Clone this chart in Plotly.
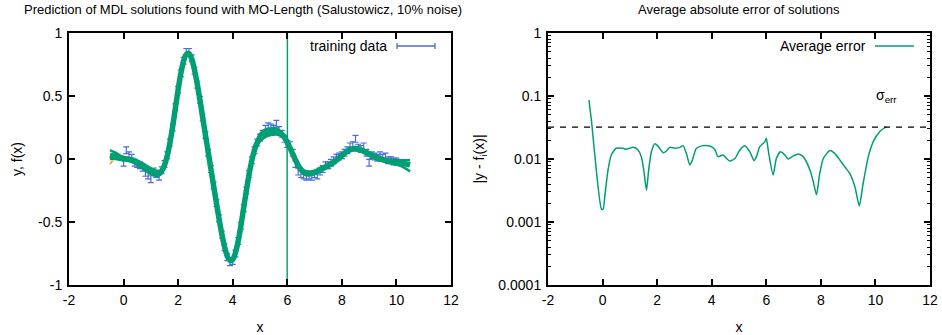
import plotly.graph_objects as go

# ---------------- data ----------------
# training data (x = 0 .. 10, step 0.1)
data_x = [round(i * 0.1, 1) for i in range(101)]
data_y = [-0.03, 0.07, 0.03, 0.01, -0.03, -0.04, -0.05, -0.07, -0.11, -0.13,
          -0.16, -0.10, -0.12, -0.14, -0.09, -0.04, 0.03, 0.13, 0.25, 0.41,
          0.55, 0.68, 0.78, 0.85, 0.85, 0.80, 0.70, 0.59, 0.47, 0.33,
          0.19, 0.05, -0.08, -0.21, -0.35, -0.47, -0.60, -0.70, -0.78, -0.82,
          -0.81, -0.75, -0.65, -0.53, -0.39, -0.25, -0.12, -0.01, 0.07, 0.13,
          0.17, 0.20, 0.24, 0.26, 0.25, 0.24, 0.28, 0.23, 0.20, 0.16,
          0.12, 0.11, 0.05, -0.04, -0.10, -0.12, -0.13, -0.14, -0.13, -0.14,
          -0.12, -0.13, -0.10, -0.08, -0.05, -0.05, -0.03, -0.01, 0.01, 0.02,
          0.03, 0.05, 0.07, 0.10, 0.11, 0.16, 0.09, 0.08, 0.10, 0.05,
          -0.03, 0.03, 0.02, 0.01, 0.03, 0.01, 0.02, -0.01, -0.01, -0.02,
          -0.02]
data_err = 0.027

# central model prediction (x = -0.5 .. 10.5, step 0.1)
model_x = [round(-0.5 + i * 0.1, 1) for i in range(111)]
model_y = [0.030, 0.025, 0.020, 0.012, 0.006,
           0.000, -0.000, -0.001, -0.005, -0.013, -0.025, -0.041, -0.057, -0.074, -0.089,
           -0.103, -0.115, -0.121, -0.116, -0.095, -0.049, 0.025, 0.129, 0.259, 0.405,
           0.551, 0.680, 0.777, 0.831, 0.835, 0.792, 0.708, 0.596, 0.466, 0.329,
           0.192, 0.056, -0.078, -0.212, -0.345, -0.475, -0.594, -0.696, -0.770, -0.805,
           -0.797, -0.744, -0.652, -0.530, -0.391, -0.251, -0.121, -0.012, 0.073, 0.132,
           0.169, 0.191, 0.204, 0.211, 0.217, 0.220, 0.220, 0.213, 0.197, 0.170,
           0.133, 0.088, 0.040, -0.008, -0.050, -0.083, -0.105, -0.117, -0.119, -0.114,
           -0.105, -0.094, -0.083, -0.073, -0.063, -0.053, -0.041, -0.027, -0.010, 0.009,
           0.028, 0.047, 0.063, 0.075, 0.082, 0.083, 0.080, 0.072, 0.062, 0.051,
           0.039, 0.028, 0.018, 0.009, 0.002, -0.005, -0.011, -0.016, -0.020, -0.024,
           -0.026, -0.028, -0.032, -0.037, -0.042, -0.047]

# spread of the other models (sparse readings)
spread_a_x = [-0.5, -0.3, -0.1, 0.1, 0.3, 0.5, 0.7, 0.9, 1.1, 1.3, 1.45]
spread_a_up = [0.07, 0.05, 0.025, 0.01, 0.0, -0.015, -0.035, -0.06, -0.085, -0.095, -0.07]
spread_a_lo = [0.0, 0.0, -0.005, -0.01, -0.025, -0.045, -0.075, -0.105, -0.13, -0.13, -0.10]
spread_b_x = [4.8, 5.0, 5.2, 5.4, 5.6, 5.8, 6.0]
spread_b_up = [0.09, 0.20, 0.235, 0.245, 0.24, 0.21, 0.15]
spread_b_lo = [0.06, 0.14, 0.175, 0.19, 0.195, 0.18, 0.11]
spread_c_x = [6.2, 6.6, 7.0, 7.4, 7.8, 8.2, 8.5, 8.8, 9.2, 9.6, 10.0, 10.3, 10.5]
spread_c_up = [0.05, -0.09, -0.095, -0.05, 0.0, 0.075, 0.095, 0.075, 0.03, 0.0, -0.01, -0.01, -0.01]
spread_c_lo = [0.03, -0.12, -0.12, -0.075, -0.02, 0.05, 0.07, 0.05, 0.005, -0.025, -0.045, -0.07, -0.10]

# a model with a pole at x = 6
pole_x = [5.6, 5.8, 5.9, 5.99, 5.999, 6.001, 6.01, 6.1, 6.3]
pole_y = [0.21, 0.18, 0.15, 0.08, -5.0, 5.0, 0.12, 0.09, -0.01]

# an outlying (orange) model, only visible at the left end
orange_x = [-0.5, -0.45, -0.4]
orange_y = [-0.04, -0.025, -0.015]

# average absolute error of the solutions
err_x = [-0.5, -0.41, -0.04, 0.02, 0.08, 0.2, 0.32, 0.5, 0.75, 0.87, 1.12, 1.3, 1.42, 1.51,
         1.61, 1.69, 1.79, 1.91, 2.03, 2.22, 2.34, 2.46, 2.65, 2.83, 2.95, 3.07, 3.2, 3.29,
         3.44, 3.68, 3.93, 4.11, 4.23, 4.42, 4.54, 4.66, 4.85, 5.03, 5.21, 5.4, 5.55, 5.64,
         5.76, 5.95, 6.0, 6.09, 6.25, 6.37, 6.52, 6.68, 6.8, 6.99, 7.17, 7.35, 7.6, 7.72,
         7.84, 7.96, 8.09, 8.33, 8.51, 8.7, 8.88, 9.06, 9.25, 9.41, 9.55, 9.74, 9.92, 10.16,
         10.4]
err_y = [0.086, 0.042, 0.0016, 0.0016, 0.0025, 0.0067, 0.0116, 0.0148, 0.0148, 0.0143, 0.0153,
         0.0139, 0.0109, 0.0067, 0.0032, 0.0067, 0.013, 0.0174, 0.016, 0.0126, 0.0134, 0.0153,
         0.0148, 0.0153, 0.0163, 0.0123, 0.008, 0.0096, 0.0148, 0.0163, 0.0161, 0.0143, 0.0109,
         0.0116, 0.0102, 0.0093, 0.0102, 0.0139, 0.0163, 0.013, 0.0094, 0.0109, 0.0157, 0.0189,
         0.0214, 0.0123, 0.0056, 0.0102, 0.013, 0.0116, 0.010, 0.0112, 0.012, 0.0109, 0.0067,
         0.0044, 0.0027, 0.0059, 0.0102, 0.0136, 0.0123, 0.0096, 0.0075, 0.0059, 0.0036, 0.0018,
         0.0041, 0.0109, 0.0189, 0.0273, 0.0328]
sigma_err = 0.032

x_ticks = [-2, 0, 2, 4, 6, 8, 10, 12]
x_ticktext = ["-2", "0", "2", "4", "6", "8", "10", "12"]
y1_ticks = [-1, -0.5, 0, 0.5, 1]
y1_ticktext = ["-1", "-0.5", "0", "0.5", "1"]
y2_ticks = [0.0001, 0.001, 0.01, 0.1, 1]
y2_ticktext = ["0.0001", "0.001", "0.01", "0.1", "1"]
y2_minor = [m * d for d in (0.0001, 0.001, 0.01, 0.1) for m in range(2, 10)]

# ---------------- styling ----------------
GREEN = "#009e73"
BLUE = "#4a6ddd"
FONT = "Liberation Sans, Arial, sans-serif"
FS = 14
W, H = 942, 335

def px(x):
    return x / W

def py(y):
    return 1 - y / H

fig = go.Figure()

fig.add_trace(go.Scatter(
    x=data_x, y=data_y, mode="markers", name="training data",
    marker=dict(size=1, color=BLUE, opacity=0),
    error_y=dict(type="constant", value=data_err, color=BLUE, thickness=1.2, width=3),
    xaxis="x", yaxis="y", showlegend=False))

fig.add_trace(go.Scatter(x=orange_x, y=orange_y, mode="lines",
                         line=dict(color="#e69f00", width=1.5),
                         xaxis="x", yaxis="y", showlegend=False))

for sx, up, lo in [(spread_a_x, spread_a_up, spread_a_lo),
                   (spread_b_x, spread_b_up, spread_b_lo),
                   (spread_c_x, spread_c_up, spread_c_lo)]:
    for yy in (up, lo):
        fig.add_trace(go.Scatter(x=sx, y=yy, mode="lines",
                                 line=dict(color=GREEN, width=2.5, shape="spline"),
                                 xaxis="x", yaxis="y", showlegend=False))

fig.add_trace(go.Scatter(x=model_x, y=model_y, mode="lines",
                         line=dict(color=GREEN, width=5.5, shape="spline"),
                         xaxis="x", yaxis="y", showlegend=False))

fig.add_trace(go.Scatter(x=pole_x, y=pole_y, mode="lines",
                         line=dict(color=GREEN, width=1.2),
                         xaxis="x", yaxis="y", showlegend=False))

fig.add_trace(go.Scatter(x=err_x, y=err_y, mode="lines",
                         line=dict(color=GREEN, width=1.5, shape="spline", smoothing=0.6),
                         xaxis="x2", yaxis="y2", showlegend=False))

axis_common = dict(
    showline=True, linecolor="black", linewidth=2, mirror="ticks",
    ticks="inside", ticklen=6, tickwidth=1.5, tickcolor="black",
    showgrid=False, zeroline=False, automargin=False,
    tickfont=dict(family=FONT, size=FS, color="black"),
)

fig.update_layout(
    width=W, height=H, autosize=False,
    margin=dict(l=0, r=0, t=0, b=0, pad=0, autoexpand=False),
    plot_bgcolor="white", paper_bgcolor="white",
    font=dict(family=FONT, size=FS, color="black"),
    showlegend=False,
    xaxis=dict(domain=[px(69), px(451)], range=[-2, 12], tickvals=x_ticks,
               ticktext=x_ticktext, anchor="y", ticklabelstandoff=1,
               title=dict(text="x", font=dict(family=FONT, size=FS), standoff=16),
               **axis_common),
    yaxis=dict(domain=[py(285), py(33)], range=[-1, 1], tickvals=y1_ticks,
               ticktext=y1_ticktext, anchor="x", ticklabelstandoff=2,
               title=dict(text="y, f(x)", font=dict(family=FONT, size=FS), standoff=12),
               **axis_common),
    xaxis2=dict(domain=[px(548), px(930)], range=[-2, 12], tickvals=x_ticks,
                ticktext=x_ticktext, anchor="y2", ticklabelstandoff=1,
                title=dict(text="x", font=dict(family=FONT, size=FS), standoff=16),
                **axis_common),
    yaxis2=dict(domain=[py(285), py(33)], type="log", range=[-4, 0], tickvals=y2_ticks,
                ticktext=y2_ticktext, anchor="x2", ticklabelstandoff=2,
                minor=dict(ticks="inside", ticklen=3, tickcolor="black", tickwidth=1,
                           tickvals=y2_minor, showgrid=False),
                title=dict(text="|y - f<sub>i</sub>(x)|", font=dict(family=FONT, size=FS), standoff=10),
                **axis_common),
)

# sigma_err dashed line
fig.add_shape(type="line", xref="x2 domain", yref="y2", x0=0, x1=1,
              y0=sigma_err, y1=sigma_err,
              line=dict(color="black", width=1.3, dash="6px,6px"))

ann = []
ann.append(dict(text="Prediction of MDL solutions found with MO-Length (Salustowicz, 10% noise)",
                x=px(243), y=py(10), xref="paper", yref="paper", showarrow=False,
                xanchor="center", yanchor="middle", font=dict(family=FONT, size=13)))
ann.append(dict(text="Average absolute error of solutions",
                x=px(739), y=py(10), xref="paper", yref="paper", showarrow=False,
                xanchor="center", yanchor="middle", font=dict(family=FONT, size=13)))
ann.append(dict(text="training data", x=px(389), y=py(46), xref="paper", yref="paper",
                showarrow=False, xanchor="right", yanchor="middle", font=dict(family=FONT, size=FS)))
ann.append(dict(text="Average error", x=px(868), y=py(46), xref="paper", yref="paper",
                showarrow=False, xanchor="right", yanchor="middle", font=dict(family=FONT, size=FS)))
ann.append(dict(text="σ<sub>err</sub>", x=px(886), y=py(96), xref="paper", yref="paper",
                showarrow=False, xanchor="center", yanchor="middle", font=dict(family=FONT, size=FS)))
fig.update_layout(annotations=ann)

# legend samples
fig.add_shape(type="line", xref="paper", yref="paper", x0=px(397), x1=px(435),
              y0=py(46), y1=py(46), line=dict(color=BLUE, width=1.3))
for xx in (397, 435):
    fig.add_shape(type="line", xref="paper", yref="paper", x0=px(xx), x1=px(xx),
                  y0=py(43), y1=py(49), line=dict(color=BLUE, width=1.3))
fig.add_shape(type="line", xref="paper", yref="paper", x0=px(875), x1=px(914),
              y0=py(46), y1=py(46), line=dict(color=GREEN, width=1.5))

fig.write_html("out.html")
